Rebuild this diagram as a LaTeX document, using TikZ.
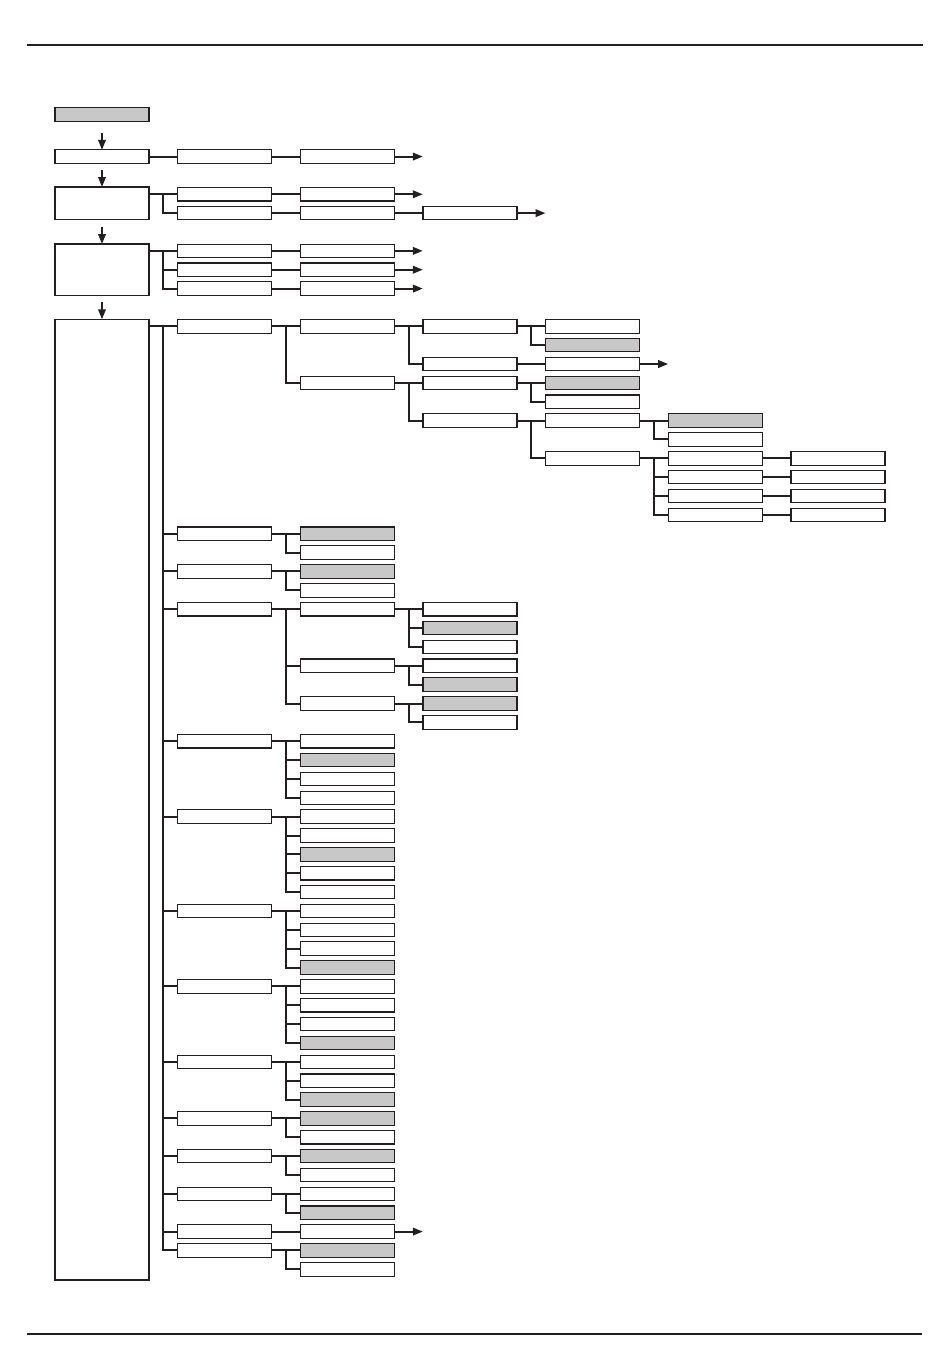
\documentclass[tikz,border=0pt]{standalone}
\usetikzlibrary{arrows.meta}
\definecolor{ink}{RGB}{35,31,32}
\definecolor{shade}{RGB}{200,200,200}
\tikzset{
 bx/.style={draw=ink, line width=1.1pt, minimum width=94pt, minimum height=13.5pt, inner sep=0pt, outer sep=0pt, fill=white},
 gbx/.style={bx, fill=shade},
 conn/.style={draw=ink, line width=2pt, line join=miter, shorten <=0.55pt, shorten >=0.55pt},
 arr/.style={-{Triangle[length=10pt,width=7.5pt]}, shorten >=0pt},
}
\newcommand\Bw[2]{\node[bx] (b#1x#2) at ({102+122.67*(#1-1)},{156.56+18.86*#2}) {};}
\newcommand\Bg[2]{\node[gbx] (b#1x#2) at ({102+122.67*(#1-1)},{156.56+18.86*#2}) {};}
\newcommand\Cn[3]{\draw[conn] (#1.east |- #2.west) -| ([xshift=-14.5pt]#3.west) -- (#3.west);}
\newcommand\Ar[1]{\draw[conn,arr] (#1.east) -- ([xshift=28.5pt]#1.east);}
\begin{document}
\begin{tikzpicture}[x=1pt,y=-1pt]
\useasboundingbox (0,0) rectangle (950,1360);
% rules
\draw[ink, line width=2pt] (27,45) -- (923,45);
\draw[ink, line width=2pt] (27,1334) -- (922,1334);
% first column
\node[gbx, minimum height=14pt] (G) at (102,114.3) {};
\node[bx] (A) at (102,156.56) {};
\node[bx, minimum height=32.3pt] (Bb) at (102,203.15) {};
\node[bx, minimum height=51.3pt] (Cc) at (102,269.65) {};
\node[bx, minimum height=960.7pt] (Dd) at (102,799.65) {};
\foreach \n in {A,Bb,Cc,Dd}{\draw[conn,arr] ([yshift=17.8pt]\n.north) -- (\n.north);}
% section A
\Bw{2}{0}\Bw{3}{0}
\Cn{A}{b2x0}{b2x0}\Cn{b2x0}{b3x0}{b3x0}\Ar{b3x0}
% section B
\Bw{2}{2}\Bw{2}{3}\Bw{3}{2}\Bw{3}{3}\Bw{4}{3}
\Cn{Bb}{b2x2}{b2x2}\Cn{Bb}{b2x2}{b2x3}
\Cn{b2x2}{b3x2}{b3x2}\Cn{b2x3}{b3x3}{b3x3}\Cn{b3x3}{b4x3}{b4x3}
\Ar{b3x2}\Ar{b4x3}
% section C
\foreach \r in {5,6,7}{\Bw{2}{\r}\Bw{3}{\r}\Cn{Cc}{b2x5}{b2x\r}\Cn{b2x\r}{b3x\r}{b3x\r}\Ar{b3x\r}}
% section D, column 2
\foreach \r in {9,20,22,24,31,35,40,44,48,51,53,55,57,58}{\Bw{2}{\r}\Cn{Dd}{b2x9}{b2x\r}}
% branch 9
\Bw{3}{9}\Bw{3}{12}
\Cn{b2x9}{b3x9}{b3x9}\Cn{b2x9}{b3x9}{b3x12}
\Bw{4}{9}\Bw{4}{11}
\Cn{b3x9}{b4x9}{b4x9}\Cn{b3x9}{b4x9}{b4x11}
\Bw{5}{9}\Bg{5}{10}
\Cn{b4x9}{b5x9}{b5x9}\Cn{b4x9}{b5x9}{b5x10}
\Bw{5}{11}\Cn{b4x11}{b5x11}{b5x11}\Ar{b5x11}
\Bw{4}{12}\Bw{4}{14}
\Cn{b3x12}{b4x12}{b4x12}\Cn{b3x12}{b4x12}{b4x14}
\Bg{5}{12}\Bw{5}{13}
\Cn{b4x12}{b5x12}{b5x12}\Cn{b4x12}{b5x12}{b5x13}
\Bw{5}{14}\Bw{5}{16}
\Cn{b4x14}{b5x14}{b5x14}\Cn{b4x14}{b5x14}{b5x16}
\Bg{6}{14}\Bw{6}{15}
\Cn{b5x14}{b6x14}{b6x14}\Cn{b5x14}{b6x14}{b6x15}
\foreach \r in {16,17,18,19}{\Bw{6}{\r}\Bw{7}{\r}\Cn{b5x16}{b6x16}{b6x\r}\Cn{b6x\r}{b7x\r}{b7x\r}}
% branch 20, 22
\Bg{3}{20}\Bw{3}{21}\Cn{b2x20}{b3x20}{b3x20}\Cn{b2x20}{b3x20}{b3x21}
\Bg{3}{22}\Bw{3}{23}\Cn{b2x22}{b3x22}{b3x22}\Cn{b2x22}{b3x22}{b3x23}
% branch 24
\Bw{3}{24}\Bw{3}{27}\Bw{3}{29}
\foreach \r in {24,27,29}{\Cn{b2x24}{b3x24}{b3x\r}}
\Bw{4}{24}\Bg{4}{25}\Bw{4}{26}
\foreach \r in {24,25,26}{\Cn{b3x24}{b4x24}{b4x\r}}
\Bw{4}{27}\Bg{4}{28}
\foreach \r in {27,28}{\Cn{b3x27}{b4x27}{b4x\r}}
\Bg{4}{29}\Bw{4}{30}
\foreach \r in {29,30}{\Cn{b3x29}{b4x29}{b4x\r}}
% branch 31
\Bw{3}{31}\Bg{3}{32}\Bw{3}{33}\Bw{3}{34}
\foreach \r in {31,...,34}{\Cn{b2x31}{b3x31}{b3x\r}}
% branch 35
\Bw{3}{35}\Bw{3}{36}\Bg{3}{37}\Bw{3}{38}\Bw{3}{39}
\foreach \r in {35,...,39}{\Cn{b2x35}{b3x35}{b3x\r}}
% branch 40
\Bw{3}{40}\Bw{3}{41}\Bw{3}{42}\Bg{3}{43}
\foreach \r in {40,...,43}{\Cn{b2x40}{b3x40}{b3x\r}}
% branch 44
\Bw{3}{44}\Bw{3}{45}\Bw{3}{46}\Bg{3}{47}
\foreach \r in {44,...,47}{\Cn{b2x44}{b3x44}{b3x\r}}
% branch 48
\Bw{3}{48}\Bw{3}{49}\Bg{3}{50}
\foreach \r in {48,49,50}{\Cn{b2x48}{b3x48}{b3x\r}}
% branch 51, 53, 55
\Bg{3}{51}\Bw{3}{52}\Cn{b2x51}{b3x51}{b3x51}\Cn{b2x51}{b3x51}{b3x52}
\Bg{3}{53}\Bw{3}{54}\Cn{b2x53}{b3x53}{b3x53}\Cn{b2x53}{b3x53}{b3x54}
\Bw{3}{55}\Bg{3}{56}\Cn{b2x55}{b3x55}{b3x55}\Cn{b2x55}{b3x55}{b3x56}
% branch 57
\Bw{3}{57}\Cn{b2x57}{b3x57}{b3x57}\Ar{b3x57}
% branch 58
\Bg{3}{58}\Bw{3}{59}\Cn{b2x58}{b3x58}{b3x58}\Cn{b2x58}{b3x58}{b3x59}
\end{tikzpicture}
\end{document}
